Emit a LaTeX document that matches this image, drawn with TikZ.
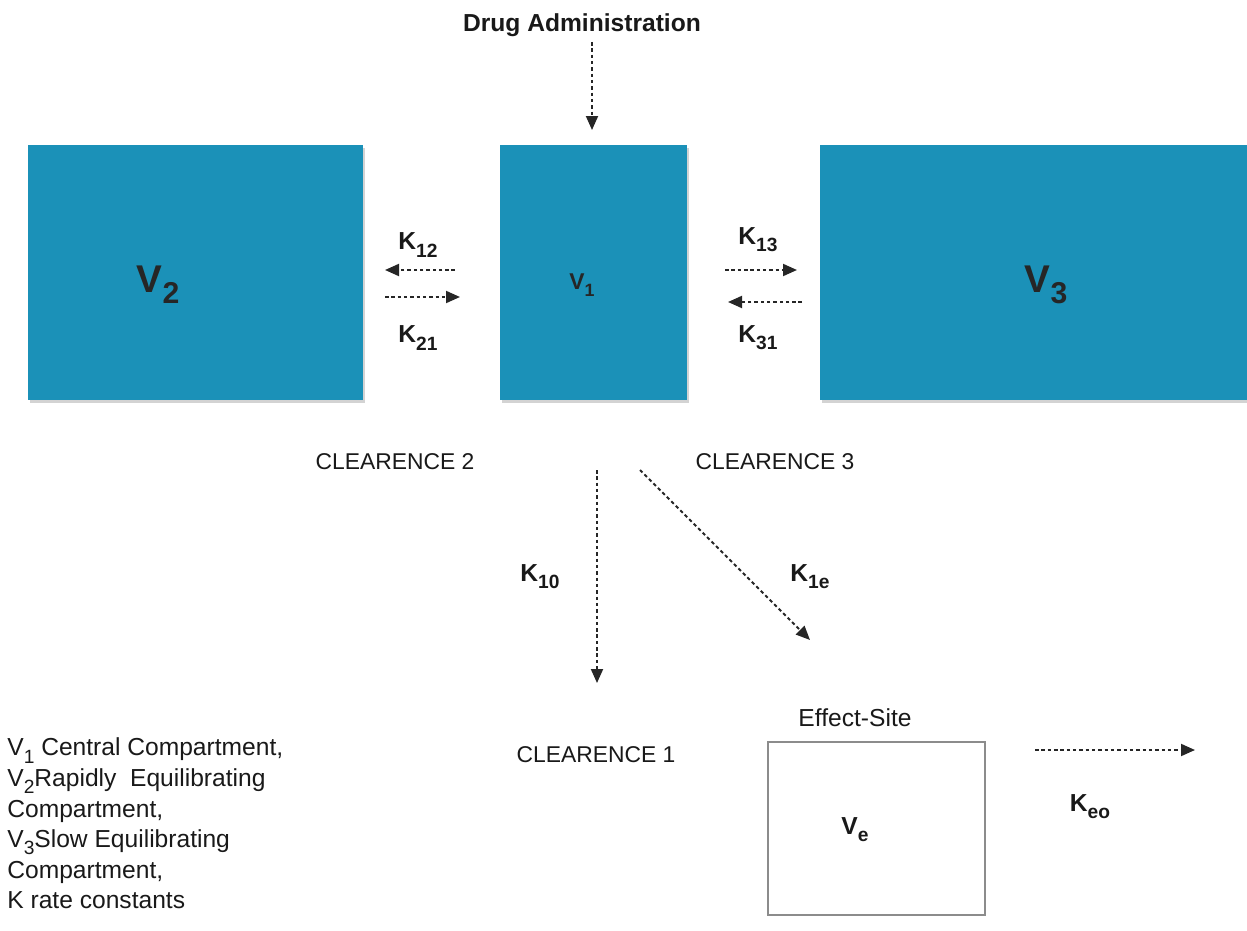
\documentclass[tikz,border=0pt]{standalone}
\usepackage{fontspec}
\setmainfont{Liberation Sans}
\usetikzlibrary{arrows.meta,shadows}

\newcommand{\lowsub}[1]{\raisebox{-0.55ex}{\scalebox{0.78}{#1}}}

\begin{document}
\begin{tikzpicture}[
    comp/.style={fill=compblue, draw=none, inner sep=0pt,
        drop shadow={opacity=0.35, shadow xshift=0.04cm, shadow yshift=-0.06cm}},
    flow/.style={line width=1.1pt, dash pattern=on 2pt off 1.6pt, color=black!85,
        -{Triangle[length=0.28cm, width=0.24cm]}},
    klabel/.style={font=\fontsize{14}{16}\selectfont\bfseries, text=black!90},
    plain/.style={font=\fontsize{13}{15}\selectfont, text=black!90}
]
    \definecolor{compblue}{RGB}{27,145,184}
    \useasboundingbox (0,0) rectangle (24.94,-18.62);

    % Draw the compartments
    \node[comp, minimum width=6.7cm, minimum height=5.1cm] (v2) at (3.91,-5.45) {};
    \node[comp, minimum width=3.74cm, minimum height=5.1cm] (v1) at (11.87,-5.45) {};
    \node[comp, minimum width=8.54cm, minimum height=5.1cm] (v3) at (20.67,-5.45) {};
    \node[draw=black!45, line width=1.1pt, minimum width=4.34cm, minimum height=3.46cm,
        inner sep=0pt] (ve) at (17.53,-16.57) {};

    % Compartment names
    \node[font=\fontsize{22}{24}\selectfont\bfseries, text=black!85] (v2name) at (3.16,-5.7) {V\lowsub{2}};
    \node[font=\fontsize{13}{15}\selectfont\bfseries, text=black!85] (v1name) at (11.64,-5.7) {V\lowsub{1}};
    \node[font=\fontsize{22}{24}\selectfont\bfseries, text=black!85] (v3name) at (20.92,-5.7) {V\lowsub{3}};
    \node[klabel] (vename) at (17.1,-16.6) {V\lowsub{e}};
    \node[plain, font=\fontsize{14}{16}\selectfont] (effect) at (17.1,-14.36) {Effect-Site};

    % Drug in
    \node[klabel] (drug) at (11.64,-0.5) {Drug Administration};
    \coordinate (drugin) at (11.84,-0.84);
    \coordinate (v1top) at (11.84,-2.6);
    \draw[flow] (drugin) -- (v1top);

    % Exchange between V1 and V2
    \coordinate (a12s) at (9.1,-5.4);
    \coordinate (a12e) at (7.7,-5.4);
    \coordinate (a21s) at (7.7,-5.94);
    \coordinate (a21e) at (9.2,-5.94);
    \draw[flow] (a12s) -- (a12e);
    \draw[flow] (a21s) -- (a21e);
    \node[klabel] (k12) at (8.36,-4.9) {K\lowsub{12}};
    \node[klabel] (k21) at (8.36,-6.76) {K\lowsub{21}};

    % Exchange between V1 and V3
    \coordinate (a13s) at (14.5,-5.4);
    \coordinate (a13e) at (15.94,-5.4);
    \coordinate (a31s) at (16.04,-6.04);
    \coordinate (a31e) at (14.56,-6.04);
    \draw[flow] (a13s) -- (a13e);
    \draw[flow] (a31s) -- (a31e);
    \node[klabel] (k13) at (15.16,-4.8) {K\lowsub{13}};
    \node[klabel] (k31) at (15.16,-6.76) {K\lowsub{31}};

    % Clearances
    \node[plain] (cl2) at (7.9,-9.24) {CLEARENCE 2};
    \node[plain] (cl3) at (15.5,-9.24) {CLEARENCE 3};
    \node[plain] (cl1) at (11.92,-15.1) {CLEARENCE 1};

    % Elimination and effect-site flows
    \coordinate (a10s) at (11.94,-9.4);
    \coordinate (a10e) at (11.94,-13.66);
    \coordinate (a1es) at (12.8,-9.4);
    \coordinate (a1ee) at (16.2,-12.8);
    \coordinate (aeos) at (20.7,-15.0);
    \coordinate (aeoe) at (23.9,-15.0);
    \draw[flow] (a10s) -- (a10e);
    \draw[flow] (a1es) -- (a1ee);
    \draw[flow] (aeos) -- (aeoe);
    \node[klabel] (k10) at (10.8,-11.54) {K\lowsub{10}};
    \node[klabel] (k1e) at (16.2,-11.54) {K\lowsub{1e}};
    \node[klabel] (keo) at (21.8,-16.14) {K\lowsub{eo}};

    % Legend
    \node[font=\fontsize{14}{17.4}\selectfont, text=black!90, align=left, anchor=west, inner sep=0pt] (legend) at (0.14,-16.47)
        {V\lowsub{1} Central Compartment,\\
         V\lowsub{2}Rapidly\ \ Equilibrating\\
         Compartment,\\
         V\lowsub{3}Slow Equilibrating\\
         Compartment,\\
         K rate constants};

\end{tikzpicture}
\end{document}
